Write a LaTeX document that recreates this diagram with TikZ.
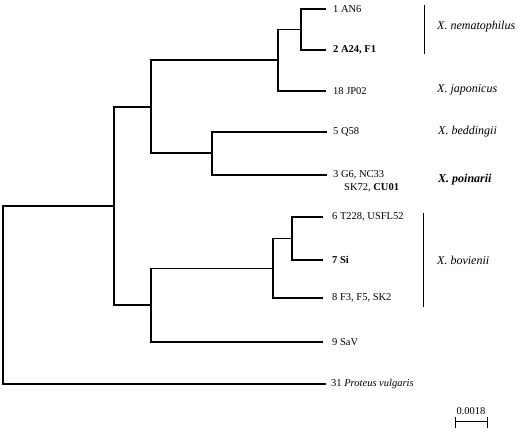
\documentclass[tikz,border=0pt]{standalone}
\usepackage{fontspec}
\setmainfont{Liberation Serif}
\usetikzlibrary{calc}
\begin{document}
\begin{tikzpicture}[x=1pt,y=-1pt,
  branch/.style={line width=1.1pt, line cap=rect},
  bracket/.style={line width=0.9pt},
  leaflabel/.style={anchor=west, inner sep=0pt, font=\fontsize{10.5}{12}\selectfont},
  species/.style={anchor=west, inner sep=0pt, font=\fontsize{12}{14}\selectfont\itshape},
  scalelabel/.style={inner sep=0pt, font=\fontsize{10.5}{12}\selectfont}]
\useasboundingbox (0,0) rectangle (520,432);
% internal nodes
\coordinate (R) at (3,295);
\coordinate (A) at (114,206);
\coordinate (B) at (151,107);
\coordinate (D) at (278,60);
\coordinate (E) at (301,29.5);
\coordinate (C) at (212,153);
\coordinate (F) at (151,305);
\coordinate (G) at (273,268.5);
\coordinate (H) at (292,238.5);
% leaves
\coordinate (l1) at (325,9);
\coordinate (l2) at (325,50);
\coordinate (l18) at (325,91);
\coordinate (l5) at (326,132);
\coordinate (l3) at (326,175);
\coordinate (l6) at (322,217);
\coordinate (l7) at (322,260);
\coordinate (l8) at (322,298);
\coordinate (l9) at (322,342);
\coordinate (l31) at (325,384);
% branches
\draw[branch] (R) |- (A);
\draw[branch] (R) |- (l31);
\draw[branch] (A) |- (B);
\draw[branch] (A) |- (F);
\draw[branch] (B) |- (D);
\draw[branch] (B) |- (C);
\draw[branch] (D) |- (E);
\draw[branch] (D) |- (l18);
\draw[branch] (E) |- (l1);
\draw[branch] (E) |- (l2);
\draw[branch] (C) |- (l5);
\draw[branch] (C) |- (l3);
\draw[branch] (F) |- (G);
\draw[branch] (F) |- (l9);
\draw[branch] (G) |- (H);
\draw[branch] (G) |- (l8);
\draw[branch] (H) |- (l6);
\draw[branch] (H) |- (l7);
% leaf labels
\node[leaflabel] (t1) at ([xshift=8pt]l1) {1 AN6};
\node[leaflabel] (t2) at ([xshift=8pt]l2) {\textbf{2 A24, F1}};
\node[leaflabel] (t18) at ([xshift=8pt]l18) {18 JP02};
\node[leaflabel] (t5) at ([xshift=7pt]l5) {5 Q58};
\node[leaflabel] (t3) at ([xshift=7pt]l3) {3 G6, NC33};
\node[leaflabel, anchor=base west] (t3b) at ([xshift=11pt,yshift=-12.5pt]t3.base west) {SK72, \textbf{CU01}};
\node[leaflabel] (t6) at ([xshift=10pt]l6) {6 T228, USFL52};
\node[leaflabel] (t7) at ([xshift=10pt]l7) {\textbf{7 Si}};
\node[leaflabel] (t8) at ([xshift=10pt]l8) {8 F3, F5, SK2};
\node[leaflabel] (t9) at ([xshift=10pt]l9) {9 SaV};
\node[leaflabel] (t31) at ([xshift=6pt]l31) {31 \textit{Proteus vulgaris}};
% species brackets and labels
\coordinate (nemT) at (424,5);
\coordinate (nemB) at (424,54);
\draw[bracket] (nemT) -- (nemB);
\coordinate (bovT) at (423,213);
\coordinate (bovB) at (423,307);
\draw[bracket] (bovT) -- (bovB);
\node[species] (snem) at (437,27) {X. nematophilus};
\node[species] (sjap) at (437,90) {X. japonicus};
\node[species] (sbed) at (438,132) {X. beddingii};
\node[species, font=\fontsize{12}{14}\selectfont\bfseries\itshape] (spoi) at (438,180) {X. poinarii};
\node[species] (sbov) at (437,260) {X. bovienii};
% scale bar
\coordinate (sbL) at (455,421);
\coordinate (sbR) at (487,421);
\draw[bracket] (sbL) -- (sbR);
\draw[bracket] ([yshift=4pt]sbL) -- ([yshift=-7pt]sbL);
\draw[bracket] ([yshift=4pt]sbR) -- ([yshift=-7pt]sbR);
\node[scalelabel, anchor=base] (sblab) at ([yshift=7pt]$(sbL)!0.5!(sbR)$) {0.0018};
\end{tikzpicture}
\end{document}
